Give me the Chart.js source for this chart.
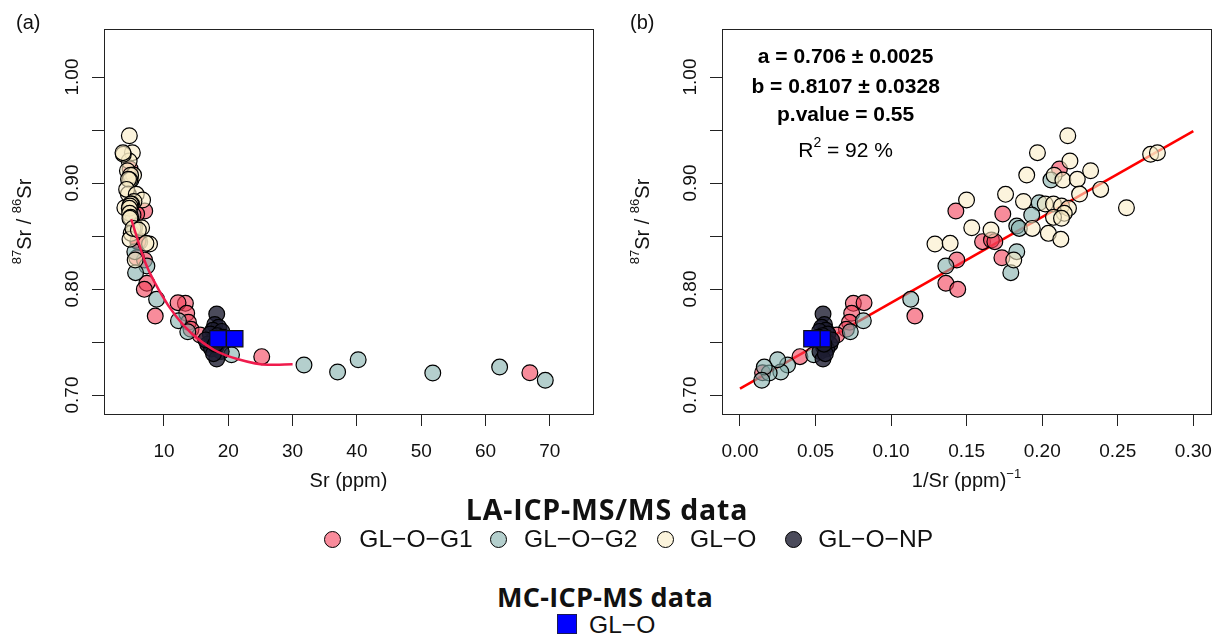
<!DOCTYPE html>
<html>
<head>
<meta charset="utf-8">
<script src="https://cdn.jsdelivr.net/npm/chart.js@4.4.1/dist/chart.umd.min.js"></script>
<style>
  html, body { margin: 0; padding: 0; background: #fff; }
  body { width: 1212px; height: 637px; position: relative; overflow: hidden; }
  canvas { position: absolute; top: 0; }
  #chartA { left: 0; }
  #chartB { left: 606px; }
  .lg { position: absolute; white-space: nowrap; line-height: 1; color: #111; }
  .lg-title { font-family: "Open Sans", sans-serif; font-weight: 700; transform: translateX(-50%); }
  .lg-text { font-family: "Liberation Sans", Arial, sans-serif; font-size: 24.6px; }
  .lg-dot { position: absolute; width: 15px; height: 15px; border: 1.5px solid #000; border-radius: 50%; }
  .lg-sq { position: absolute; width: 18px; height: 18px; border: 1.5px solid #1a1a55; background: #0000ff; }
</style>
</head>
<body>
<canvas id="chartA" width="606" height="500"></canvas>
<canvas id="chartB" width="606" height="500"></canvas>
<div id="legend"></div>
<script>
// LA-ICP-MS/MS spots: Sr (ppm) and 87Sr/86Sr, per group
const g1Sr    = [4.73, 7.00, 5.75, 6.23, 6.01, 5.93, 5.77, 6.97, 7.34, 6.94, 8.64, 13.33, 12.18, 13.53, 13.8, 14.2, 15.6, 25.2, 66.9];
const g1Ratio = [0.9132, 0.8736, 0.8708, 0.8447, 0.8462, 0.8447, 0.8295, 0.8274, 0.8054, 0.7997, 0.7745, 0.7865, 0.7871, 0.7771, 0.7686, 0.7620, 0.7566, 0.7362, 0.7210];

const g2Sr    = [4.86, 5.05, 5.18, 5.46, 5.41, 5.46, 7.34, 5.58, 8.85, 12.25, 13.7, 20.5, 31.77, 37.0, 40.2, 51.8, 62.2, 69.3];
const g2Ratio = [0.9028, 0.8814, 0.8698, 0.8594, 0.8572, 0.8352, 0.8217, 0.8154, 0.7903, 0.7701, 0.7597, 0.7380, 0.7283, 0.7217, 0.7333, 0.7208, 0.7264, 0.7139];

const glSr    = [4.61, 5.08, 4.58, 4.31, 5.27, 4.81, 4.68, 4.48, 4.45, 4.19, 3.68, 3.62, 3.91, 5.69, 6.67, 5.33, 4.95, 4.82, 4.70, 4.60, 4.66, 4.82, 4.70, 4.90, 4.71, 5.17, 6.52, 6.02, 7.75, 7.19, 5.52];
const glRatio = [0.9446, 0.9286, 0.9208, 0.9116, 0.9075, 0.9073, 0.9028, 0.9035, 0.8896, 0.8940, 0.9271, 0.9286, 0.8767, 0.8893, 0.8840, 0.8826, 0.8802, 0.8802, 0.8783, 0.8761, 0.8714, 0.8676, 0.8667, 0.8525, 0.8469, 0.8572, 0.8578, 0.8557, 0.8425, 0.8431, 0.8274];

const npSr    = [18.2, 17.9, 18.5, 17.6, 19.0, 17.2, 18.3, 19.2, 17.8, 18.6, 16.8, 18.1, 17.4, 18.9, 18.2, 17.7, 16.5, 18.0];
const npRatio = [0.7765, 0.7665, 0.7640, 0.7610, 0.7600, 0.7575, 0.7560, 0.7545, 0.7525, 0.7500, 0.7480, 0.7455, 0.7435, 0.7410, 0.7340, 0.7390, 0.7520, 0.7480];

// MC-ICP-MS
const mcSr    = [18.4, 21.0];
const mcRatio = [0.7531, 0.7531];

// smoother drawn in (a), regression line drawn in (b)
const fitSr    = [4.9, 7.15, 9.5, 11.9, 14.3, 17.8, 21.4, 26.2, 30.0];
const fitRatio = [0.866, 0.824, 0.796, 0.774, 0.758, 0.7425, 0.734, 0.7285, 0.729];
const regInvSr = [0, 0.30];
const regRatio = [0.706, 0.949];

// ticks
const xTicksA = [10, 20, 30, 40, 50, 60, 70];
const xTicksB = [0, 0.05, 0.10, 0.15, 0.20, 0.25, 0.30];
const yTicks  = [0.70, 0.75, 0.80, 0.85, 0.90, 0.95, 1.00];
const yLabels = [0.70, 0.80, 0.90, 1.00];

const legendLabels = ['GL\u2212O\u2212G1', 'GL\u2212O\u2212G2', 'GL\u2212O', 'GL\u2212O\u2212NP'];

const fills  = ['rgba(243,63,88,0.6)', 'rgba(130,175,172,0.6)', 'rgba(250,237,198,0.6)', 'rgba(30,30,50,0.8)'];
const solids = ['#f98b9b', '#b4cfcd', '#fcf4dc', '#4b4b5b'];

const F = (size, bold) => (bold ? 'bold ' : '') + size + 'px "Liberation Sans", Arial, sans-serif';

function pts(xs, ys, inv) {
  return xs.map((v, i) => ({ x: inv ? 1 / v : v, y: ys[i] }));
}

function drawRuns(ctx, parts, cx, base) {
  let total = 0;
  for (const p of parts) { ctx.font = p.f; p.w = ctx.measureText(p.t).width; total += p.w; }
  let x = cx - total / 2;
  ctx.textAlign = 'left';
  ctx.textBaseline = 'alphabetic';
  for (const p of parts) { ctx.font = p.f; ctx.fillText(p.t, x, base - (p.up || 0)); x += p.w; }
}

// R-style frame: box, rotated y labels, axis titles, panel tag
function rFrame(cfg) {
  return {
    id: 'rFrame',
    afterDraw(chart) {
      const { ctx, chartArea: a } = chart;
      const x = chart.scales.x, y = chart.scales.y;
      ctx.save();
      ctx.strokeStyle = '#222';
      ctx.lineWidth = 1;
      ctx.strokeRect(a.left + 0.5, a.top + 0.5, a.right - a.left, a.bottom - a.top);
      ctx.fillStyle = '#111';

      ctx.font = F(19);
      ctx.textAlign = 'center';
      ctx.textBaseline = 'alphabetic';
      cfg.xTicks.forEach(v => ctx.fillText(cfg.fmt(v), x.getPixelForValue(v), a.bottom + 42.7));

      yLabels.forEach(v => {
        ctx.save();
        ctx.translate(a.left - 33 + 6.8, y.getPixelForValue(v));
        ctx.rotate(-Math.PI / 2);
        ctx.textAlign = 'center';
        ctx.fillText(v.toFixed(2), 0, 0);
        ctx.restore();
      });

      drawRuns(ctx, cfg.xTitle, (a.left + a.right) / 2, a.bottom + 73);

      ctx.save();
      ctx.translate(a.left - 72.8, (a.top + a.bottom) / 2);
      ctx.rotate(-Math.PI / 2);
      drawRuns(ctx, [
        { t: '87', f: F(13), up: 10 }, { t: 'Sr / ', f: F(20) },
        { t: '86', f: F(13), up: 10 }, { t: 'Sr', f: F(20) }
      ], 0, 0);
      ctx.restore();

      ctx.font = F(20);
      ctx.textAlign = 'left';
      ctx.fillText(cfg.tag, cfg.tagX, 29);

      if (cfg.extra) cfg.extra(ctx, a);
      ctx.restore();
    }
  };
}

function axes(xMin, xMax, xTicks) {
  const grid = { drawOnChartArea: false, drawTicks: true, tickLength: 12, color: '#222', lineWidth: 1 };
  const border = { display: true, color: '#222', width: 1 };
  return {
    x: {
      type: 'linear', min: xMin, max: xMax,
      afterBuildTicks: s => { s.ticks = xTicks.map(v => ({ value: v })); },
      afterFit: s => { s.height = 86; },
      ticks: { display: false }, grid, border
    },
    y: {
      type: 'linear', min: 0.6821, max: 1.0453,
      afterBuildTicks: s => { s.ticks = yTicks.map(v => ({ value: v })); },
      afterFit: s => { s.width = s.chart.canvas.id === 'chartA' ? 104 : 116; },
      ticks: { display: false }, grid, border
    }
  };
}

function groups(inv, orderBase) {
  const sets = [[g1Sr, g1Ratio], [g2Sr, g2Ratio], [glSr, glRatio], [npSr, npRatio]];
  return sets.map((s, i) => ({
    label: legendLabels[i],
    data: pts(s[0], s[1], inv),
    pointRadius: 7.9,
    pointBorderWidth: 1.2,
    backgroundColor: fills[i],
    borderColor: '#000',
    order: orderBase + (3 - i)
  }));
}

function mcSet(inv) {
  return {
    label: 'MC GL\u2212O',
    data: pts(mcSr, mcRatio, inv),
    pointStyle: 'rect',
    pointRadius: 11.6,
    pointBorderWidth: 1.2,
    backgroundColor: '#0000ff',
    borderColor: '#111',
    order: 1
  };
}

const common = {
  responsive: false,
  animation: false,
  events: [],
  plugins: { legend: { display: false }, tooltip: { enabled: false } }
};

new Chart(document.getElementById('chartA'), {
  type: 'scatter',
  data: {
    datasets: [
      {
        label: 'fit', data: pts(fitSr, fitRatio, false), showLine: true,
        borderColor: '#ef1b4c', borderWidth: 2.5, pointRadius: 0,
        cubicInterpolationMode: 'monotone', order: 0
      },
      mcSet(false),
      ...groups(false, 2)
    ]
  },
  options: Object.assign({}, common, {
    layout: { autoPadding: false, padding: { left: 0, right: 13, top: 29, bottom: 0 } },
    scales: axes(0.669, 76.72, xTicksA)
  }),
  plugins: [rFrame({
    xTicks: xTicksA, fmt: v => String(v), tag: '(a)', tagX: 16,
    xTitle: [{ t: 'Sr (ppm)', f: F(20) }]
  })]
});

new Chart(document.getElementById('chartB'), {
  type: 'scatter',
  data: {
    datasets: [
      mcSet(true),
      ...groups(true, 2),
      {
        label: 'regression', data: pts(regInvSr, regRatio, false), showLine: true,
        borderColor: '#ff0000', borderWidth: 2.5, pointRadius: 0, order: 9
      }
    ]
  },
  options: Object.assign({}, common, {
    layout: { autoPadding: false, padding: { left: 0, right: 1, top: 29, bottom: 0 } },
    scales: axes(-0.01191, 0.3117, xTicksB)
  }),
  plugins: [rFrame({
    xTicks: xTicksB, fmt: v => v.toFixed(2), tag: '(b)', tagX: 24,
    xTitle: [{ t: '1/Sr (ppm)', f: F(20) }, { t: '\u22121', f: F(13), up: 9 }],
    extra: (ctx, a) => {
      const cx = a.left + 123.6;
      ctx.fillStyle = '#000';
      drawRuns(ctx, [{ t: 'a = 0.706 \u00b1 0.0025', f: F(21, true) }], cx, 63.3);
      drawRuns(ctx, [{ t: 'b = 0.8107 \u00b1 0.0328', f: F(21, true) }], cx, 93.3);
      drawRuns(ctx, [{ t: 'p.value = 0.55', f: F(21, true) }], cx, 121);
      drawRuns(ctx, [
        { t: 'R', f: F(21) }, { t: '2', f: F(14), up: 9.7 }, { t: ' = 92 %', f: F(21) }
      ], cx, 156.7);
    }
  })]
});

// legend below the panels
const legend = document.getElementById('legend');
function add(cls, text, left, top) {
  const d = document.createElement('div');
  d.className = cls;
  if (text) d.textContent = text;
  d.style.left = left + 'px';
  d.style.top = top + 'px';
  legend.appendChild(d);
  return d;
}
const t1 = add('lg lg-title', 'LA-ICP-MS/MS data', 607, 494.7);
t1.style.fontSize = '28.5px';
t1.style.letterSpacing = '0.8px';
const dotX  = [332.7, 499, 665.8, 794.2];
const textX = [359.3, 524, 690, 818.3];
legendLabels.forEach((t, i) => {
  const d = add('lg-dot', '', dotX[i] - 9, 531);
  d.style.background = solids[i];
  add('lg lg-text', t, textX[i], 526.9);
});
const t2 = add('lg lg-title', 'MC-ICP-MS data', 605, 582.7);
t2.style.fontSize = '27px';
t2.style.letterSpacing = '0.3px';
add('lg-sq', '', 557, 614.3);
add('lg lg-text', 'GL\u2212O', 589, 612.5);
</script>
</body>
</html>
